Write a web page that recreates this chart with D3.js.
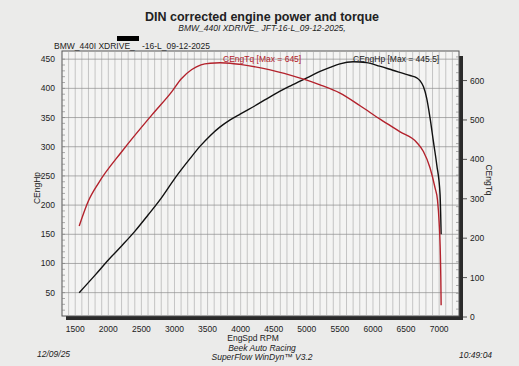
<!DOCTYPE html>
<html lang="en">
  <head>
    <meta charset="utf-8">
    <title>DIN corrected engine power and torque</title>
    <script src="https://d3js.org/d3.v7.min.js"></script>
    <style>
      body { margin: 0; background: #ebebea; }
      svg text { font-family: "Liberation Sans", Arial, sans-serif; fill: #222; }
      .it { font-style: italic; }
    </style>
  </head>
  <body>
    <div id="chart"></div>
    <script>
      var w = 519;
      var h = 366;

      // power curve (CEngHp)
      var hpRpm = [1560, 1800, 2000, 2200, 2400, 2600, 2800, 3000, 3237, 3388, 3539, 3690, 3841, 3992, 4245, 4496, 4748, 5000, 5200, 5352, 5500, 5700, 5900, 6100, 6300, 6560, 6661, 6711, 6762, 6812, 6863, 6913, 6964, 7014, 7030];
      var hpVals = [50, 80, 106, 130, 155, 183, 212, 245, 280, 301, 319, 334, 346, 356, 372, 389, 404, 418, 429, 436, 442, 445.5, 444, 438, 431, 422, 418, 413, 403, 383, 349, 309, 269, 218, 150];

      // torque curve (CEngTq)
      var tqRpm = [1560, 1700, 1852, 2205, 2659, 2960, 3100, 3262, 3400, 3539, 3690, 3841, 3992, 4446, 4899, 5200, 5502, 5805, 6107, 6410, 6661, 6762, 6863, 6939, 6975, 7000, 7015, 7025, 7030];
      var tqVals = [231, 295, 340, 420, 513, 572, 604, 628, 640, 644, 645, 644, 641, 627, 606, 589, 568, 536, 502, 470, 443, 420, 378, 327, 297, 240, 180, 100, 30];

      var rpmTicks = [1500, 2000, 2500, 3000, 3500, 4000, 4500, 5000, 5500, 6000, 6500, 7000];
      var hpTicks = [50, 100, 150, 200, 250, 300, 350, 400, 450];
      var tqTicks = [0, 100, 200, 300, 400, 500, 600];

      var pL = 62, pR = 459, pT = 51, pB = 316;

      var x = d3.scaleLinear().domain([1300, 7300]).range([pL, pR]);
      var yHp = d3.scaleLinear().domain([10, 464]).range([pB, pT]);
      var yTq = d3.scaleLinear().domain([0, 675]).range([317, pT]);

      var svg = d3.select("#chart")
                  .append("svg")
                  .attr("width", w)
                  .attr("height", h);

      // titles
      svg.append("text").attr("x", 262).attr("y", 21)
        .attr("text-anchor", "middle").style("font-size", "12.5px").style("font-weight", "bold")
        .text("DIN corrected engine power and torque");
      svg.append("text").attr("class", "it").attr("x", 262).attr("y", 31)
        .attr("text-anchor", "middle").style("font-size", "8.5px")
        .text("BMW_440I XDRIVE_ JFT-16-L_09-12-2025,");

      svg.append("rect").attr("x", 117).attr("y", 36).attr("width", 22).attr("height", 5).attr("fill", "#000");
      svg.append("text").attr("x", 54).attr("y", 49).style("font-size", "8.5px").text("BMW_440I XDRIVE_");
      svg.append("text").attr("x", 142).attr("y", 49).style("font-size", "8.5px").text("-16-L_09-12-2025");

      // plot background + shadow
      svg.append("rect").attr("x", 66).attr("y", 56).attr("width", pR - 62).attr("height", pB - 52)
        .attr("fill", "#2a2a2a");
      svg.append("rect").attr("x", pL).attr("y", pT).attr("width", pR - pL).attr("height", pB - pT)
        .attr("fill", "#f4f4f3").attr("stroke", "#555").attr("stroke-width", 1);

      // vertical grid every 100 rpm
      svg.append("g").selectAll("line")
        .data(d3.range(1400, 7300, 100))
        .enter()
        .append("line")
        .attr("x1", function(d) { return x(d); })
        .attr("x2", function(d) { return x(d); })
        .attr("y1", pT)
        .attr("y2", pB)
        .attr("stroke", "#a5a5a5")
        .attr("stroke-width", 0.6);

      // horizontal grid on hp ticks
      svg.append("g").selectAll("line")
        .data(hpTicks)
        .enter()
        .append("line")
        .attr("x1", pL)
        .attr("x2", pR)
        .attr("y1", function(d) { return yHp(d); })
        .attr("y2", function(d) { return yHp(d); })
        .attr("stroke", "#8c8c8c")
        .attr("stroke-width", 0.7);

      // minor ticks inside left edge
      svg.append("g").selectAll("line")
        .data(d3.range(20, 460, 10))
        .enter()
        .append("line")
        .attr("x1", pL)
        .attr("x2", pL + 3)
        .attr("y1", function(d) { return yHp(d); })
        .attr("y2", function(d) { return yHp(d); })
        .attr("stroke", "#777")
        .attr("stroke-width", 0.6);

      // minor ticks inside right edge
      svg.append("g").selectAll("line")
        .data(d3.range(20, 670, 20))
        .enter()
        .append("line")
        .attr("x1", pR - 3)
        .attr("x2", pR)
        .attr("y1", function(d) { return yTq(d); })
        .attr("y2", function(d) { return yTq(d); })
        .attr("stroke", "#777")
        .attr("stroke-width", 0.6);

      // left axis labels
      svg.append("g").selectAll("text")
        .data(hpTicks)
        .enter()
        .append("text")
        .attr("x", 55)
        .attr("y", function(d) { return yHp(d) + 3; })
        .attr("text-anchor", "end")
        .style("font-size", "8.5px")
        .text(function(d) { return d; });

      // right axis ticks + labels
      svg.append("g").selectAll("line")
        .data(tqTicks)
        .enter()
        .append("line")
        .attr("x1", 463)
        .attr("x2", 467)
        .attr("y1", function(d) { return yTq(d); })
        .attr("y2", function(d) { return yTq(d); })
        .attr("stroke", "#555");
      svg.append("g").selectAll("text")
        .data(tqTicks)
        .enter()
        .append("text")
        .attr("x", 470)
        .attr("y", function(d) { return yTq(d) + 3; })
        .style("font-size", "8.5px")
        .text(function(d) { return d; });

      // bottom axis labels
      svg.append("g").selectAll("text")
        .data(rpmTicks)
        .enter()
        .append("text")
        .attr("x", function(d) { return x(d); })
        .attr("y", 332)
        .attr("text-anchor", "middle")
        .style("font-size", "8.5px")
        .text(function(d) { return d; });

      svg.append("text").attr("x", 253).attr("y", 341).attr("text-anchor", "middle")
        .style("font-size", "8.5px").text("EngSpd RPM");
      svg.append("text").attr("transform", "translate(40,188) rotate(-90)").attr("text-anchor", "middle")
        .style("font-size", "8.5px").text("CEngHp");
      svg.append("text").attr("transform", "translate(486,180) rotate(90)").attr("text-anchor", "middle")
        .style("font-size", "8.5px").text("CEngTq");

      // footer
      svg.append("text").attr("class", "it").attr("x", 262).attr("y", 351).attr("text-anchor", "middle")
        .style("font-size", "8.5px").text("Beek Auto Racing");
      svg.append("text").attr("class", "it").attr("x", 262).attr("y", 360).attr("text-anchor", "middle")
        .style("font-size", "8.5px").text("SuperFlow WinDyn\u2122 V3.2");
      svg.append("text").attr("class", "it").attr("x", 37).attr("y", 357)
        .style("font-size", "8.5px").text("12/09/25");
      svg.append("text").attr("class", "it").attr("x", 459).attr("y", 358)
        .style("font-size", "8.5px").text("10:49:04");

      // curves
      var hpData = hpRpm.map(function(r, i) { return {rpm: r, v: hpVals[i]}; });
      var tqData = tqRpm.map(function(r, i) { return {rpm: r, v: tqVals[i]}; });

      var hpLine = d3.line()
        .x(function(d) { return x(d.rpm); })
        .y(function(d) { return yHp(d.v); })
        .curve(d3.curveMonotoneX);
      var tqLine = d3.line()
        .x(function(d) { return x(d.rpm); })
        .y(function(d) { return yTq(d.v); })
        .curve(d3.curveMonotoneX);

      svg.append("path").datum(hpData).attr("d", hpLine)
        .attr("fill", "none").attr("stroke", "#111").attr("stroke-width", 1.4);
      svg.append("path").datum(tqData).attr("d", tqLine)
        .attr("fill", "none").attr("stroke", "#b3222c").attr("stroke-width", 1.4);

      // legends
      svg.append("text").attr("x", 223).attr("y", 62).style("font-size", "8.5px")
        .style("fill", "#b3222c").text("CEngTq [Max = " + d3.max(tqVals) + "]");
      svg.append("text").attr("x", 353).attr("y", 62).style("font-size", "8.5px")
        .text("CEngHp [Max = " + d3.max(hpVals) + "]");
    </script>
  </body>
</html>
